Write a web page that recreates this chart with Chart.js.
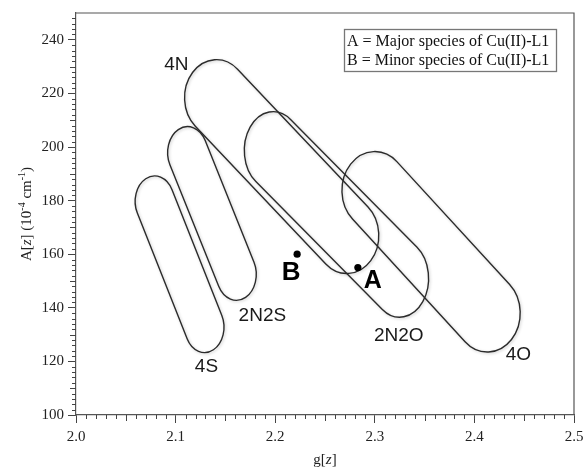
<!DOCTYPE html>
<html>
<head>
<meta charset="utf-8">
<title>Peisach-Blumberg plot</title>
<script src="https://cdn.jsdelivr.net/npm/chart.js@4.4.1/dist/chart.umd.min.js"></script>
<style>
    html, body { margin: 0; padding: 0; background: #fff; }
    #chart { display: block; }
</style>
</head>
<body>
<canvas id="chart" width="584" height="468"></canvas>
<script>
// axis ticks
const xTicks = [2.0, 2.1, 2.2, 2.3, 2.4, 2.5];
const yTicks = [100, 120, 140, 160, 180, 200, 220, 240];

// regions: centre of each end cap (g, A) and cap half-size in data units
const regionNames = ['4S', '2N2S', '4N', '2N2O', '4O'];
const startG = [2.079, 2.112, 2.141, 2.198, 2.300];
const startA = [179.7, 197.9, 218.4, 198.7, 183.8];
const endG = [2.129, 2.161, 2.272, 2.325, 2.413];
const endA = [132.8, 152.5, 167.0, 151.0, 138.0];
const halfG = [0.0196, 0.020, 0.032, 0.029, 0.033];
const halfA = [9.5, 9.7, 14.2, 14.5, 14.5];

// measured species
const speciesNames = ['A', 'B'];
const speciesG = [2.283, 2.222];
const speciesA = [155, 160];

const legendLines = ['A = Major species of Cu(II)-L1', 'B = Minor species of Cu(II)-L1'];

const SERIF = '"Liberation Serif", "Times New Roman", serif';
const SANS = '"Liberation Sans", Arial, sans-serif';

// where each region name sits, relative to one of its caps (pixels)
const regionLabelPlace = {
    '4S':   { cap: 'end', dx: 2, dy: 40 },
    '2N2S': { cap: 'end', dx: 26, dy: 41 },
    '4N':   { cap: 'start', dx: -40, dy: -33 },
    '2N2O': { cap: 'end', dx: -1, dy: 57 },
    '4O':   { cap: 'end', dx: 31, dy: 42 }
};
const speciesLabelPlace = {
    'A': { dx: 15, dy: 14, size: 25 },
    'B': { dx: -6, dy: 19, size: 26 }
};

const regionsPlugin = {
    id: 'regions',
    beforeDatasetsDraw(chart) {
        const { ctx, scales: { x, y } } = chart;
        ctx.save();
        ctx.strokeStyle = '#2b2b2b';
        ctx.lineWidth = 1.4;
        ctx.shadowColor = 'rgba(0,0,0,0.22)';
        ctx.shadowBlur = 3;
        ctx.shadowOffsetX = 1;
        ctx.shadowOffsetY = 1;

        regionNames.forEach((name, i) => {
            const x1 = x.getPixelForValue(startG[i]);
            const y1 = y.getPixelForValue(startA[i]);
            const x2 = x.getPixelForValue(endG[i]);
            const y2 = y.getPixelForValue(endA[i]);
            const rx = Math.abs(x.getPixelForValue(startG[i] + halfG[i]) - x1);
            const ry = Math.abs(y.getPixelForValue(startA[i] + halfA[i]) - y1);
            const k = ry / rx;

            // build a stadium in a squashed space so the caps come out as ellipses
            ctx.beginPath();
            ctx.save();
            ctx.scale(1, k);
            const u1 = y1 / k, u2 = y2 / k;
            const th = Math.atan2(u2 - u1, x2 - x1);
            ctx.arc(x1, u1, rx, th + Math.PI / 2, th + 3 * Math.PI / 2);
            ctx.arc(x2, u2, rx, th - Math.PI / 2, th + Math.PI / 2);
            ctx.closePath();
            ctx.restore();
            ctx.stroke();
        });

        ctx.shadowColor = 'transparent';
        ctx.fillStyle = '#1a1a1a';
        ctx.font = '19px ' + SANS;
        ctx.textAlign = 'center';
        ctx.textBaseline = 'middle';
        regionNames.forEach((name, i) => {
            const p = regionLabelPlace[name];
            const gx = p.cap === 'end' ? endG[i] : startG[i];
            const ay = p.cap === 'end' ? endA[i] : startA[i];
            ctx.fillText(name, x.getPixelForValue(gx) + p.dx, y.getPixelForValue(ay) + p.dy);
        });
        ctx.restore();
    },
    afterDatasetsDraw(chart) {
        const { ctx, scales: { x, y } } = chart;
        ctx.save();
        ctx.fillStyle = '#000';
        ctx.textAlign = 'center';
        ctx.textBaseline = 'middle';
        speciesNames.forEach((name, i) => {
            const p = speciesLabelPlace[name];
            ctx.font = 'bold ' + p.size + 'px ' + SANS;
            ctx.fillText(name, x.getPixelForValue(speciesG[i]) + p.dx, y.getPixelForValue(speciesA[i]) + p.dy);
        });
        ctx.restore();
    }
};

const framePlugin = {
    id: 'frame',
    afterDraw(chart) {
        const { ctx, chartArea: a, scales: { x, y } } = chart;
        ctx.save();
        ctx.strokeStyle = '#555';
        ctx.lineWidth = 1.2;
        ctx.beginPath();
        ctx.moveTo(a.left, a.top);
        ctx.lineTo(a.right, a.top);
        ctx.lineTo(a.right, a.bottom);
        ctx.stroke();

        // minor and middle ticks
        ctx.strokeStyle = '#444';
        ctx.lineWidth = 1;
        ctx.beginPath();
        for (let i = 1; i < 50; i++) {
            if (i % 10 === 0) continue;
            const px = Math.round(x.getPixelForValue(2.0 + i * 0.01)) + 0.5;
            const len = i % 5 === 0 ? 6 : 4;
            ctx.moveTo(px, a.bottom);
            ctx.lineTo(px, a.bottom + len);
        }
        for (let v = 102; v < 250; v += 2) {
            if ((v - 100) % 20 === 0) continue;
            const py = Math.round(y.getPixelForValue(v)) + 0.5;
            const len = v % 10 === 0 ? 6 : 4;
            ctx.moveTo(a.left, py);
            ctx.lineTo(a.left - len, py);
        }
        ctx.stroke();

        // legend box
        ctx.strokeStyle = '#777';
        ctx.lineWidth = 1.3;
        ctx.strokeRect(344.5, 29.5, 212, 42);
        ctx.fillStyle = '#111';
        ctx.font = '16px ' + SERIF;
        ctx.textAlign = 'left';
        ctx.textBaseline = 'alphabetic';
        ctx.fillText(legendLines[0], 347, 46);
        ctx.fillText(legendLines[1], 347, 65);

        // axis titles
        ctx.fillStyle = '#222';
        ctx.font = '15px ' + SERIF;
        const xt = [['g[', ''], ['z', 'italic '], [']', '']];
        let w = 0;
        xt.forEach(([t, s]) => { ctx.font = s + '15px ' + SERIF; w += ctx.measureText(t).width; });
        let cx = (a.left + a.right) / 2 - w / 2;
        xt.forEach(([t, s]) => {
            ctx.font = s + '15px ' + SERIF;
            ctx.fillText(t, cx, 464);
            cx += ctx.measureText(t).width;
        });

        const yt = [['A[', 15, 0, ''], ['z', 15, 0, 'italic '], ['] (10', 15, 0, ''], ['-4', 10, -6, ''],
                    [' cm', 15, 0, ''], ['-1', 10, -6, ''], [')', 15, 0, '']];
        ctx.translate(31, (a.top + a.bottom) / 2);
        ctx.rotate(-Math.PI / 2);
        w = 0;
        yt.forEach(([t, sz, , s]) => { ctx.font = s + sz + 'px ' + SERIF; w += ctx.measureText(t).width; });
        cx = -w / 2;
        yt.forEach(([t, sz, off, s]) => {
            ctx.font = s + sz + 'px ' + SERIF;
            ctx.fillText(t, cx, off);
            cx += ctx.measureText(t).width;
        });
        ctx.restore();
    }
};

const ctx = document.getElementById('chart').getContext('2d');
const chart = new Chart(ctx, {
    type: 'scatter',
    data: {
        datasets: [{
            label: 'species',
            data: speciesG.map((g, i) => ({ x: g, y: speciesA[i] })),
            pointRadius: 3.6,
            pointBackgroundColor: '#000',
            pointBorderWidth: 0
        }]
    },
    options: {
        responsive: false,
        animation: false,
        layout: { padding: { left: 40, right: 10, top: 13, bottom: 13 } },
        plugins: {
            legend: { display: false },
            tooltip: { enabled: false }
        },
        scales: {
            x: {
                type: 'linear',
                min: 2.0,
                max: 2.5,
                afterBuildTicks: s => { s.ticks = xTicks.map(v => ({ value: v })); },
                afterFit: s => { s.height = 40; s.paddingLeft = 0; s.paddingRight = 0; },
                ticks: {
                    font: { family: SERIF, size: 15 },
                    color: '#222',
                    padding: 5,
                    maxRotation: 0,
                    autoSkip: false,
                    callback: v => Number(v).toFixed(1)
                },
                grid: { drawOnChartArea: false, tickLength: 8, tickColor: '#444', tickWidth: 1 },
                border: { color: '#555', width: 1.2 }
            },
            y: {
                type: 'linear',
                min: 100,
                max: 250,
                afterBuildTicks: s => { s.ticks = yTicks.map(v => ({ value: v })); },
                afterFit: s => { s.width = 36; s.paddingTop = 0; s.paddingBottom = 0; },
                ticks: {
                    font: { family: SERIF, size: 15 },
                    color: '#222',
                    padding: 4,
                    autoSkip: false,
                    callback: v => v
                },
                grid: { drawOnChartArea: false, tickLength: 8, tickColor: '#444', tickWidth: 1 },
                border: { color: '#555', width: 1.2 }
            }
        }
    },
    plugins: [regionsPlugin, framePlugin]
});
</script>
</body>
</html>
